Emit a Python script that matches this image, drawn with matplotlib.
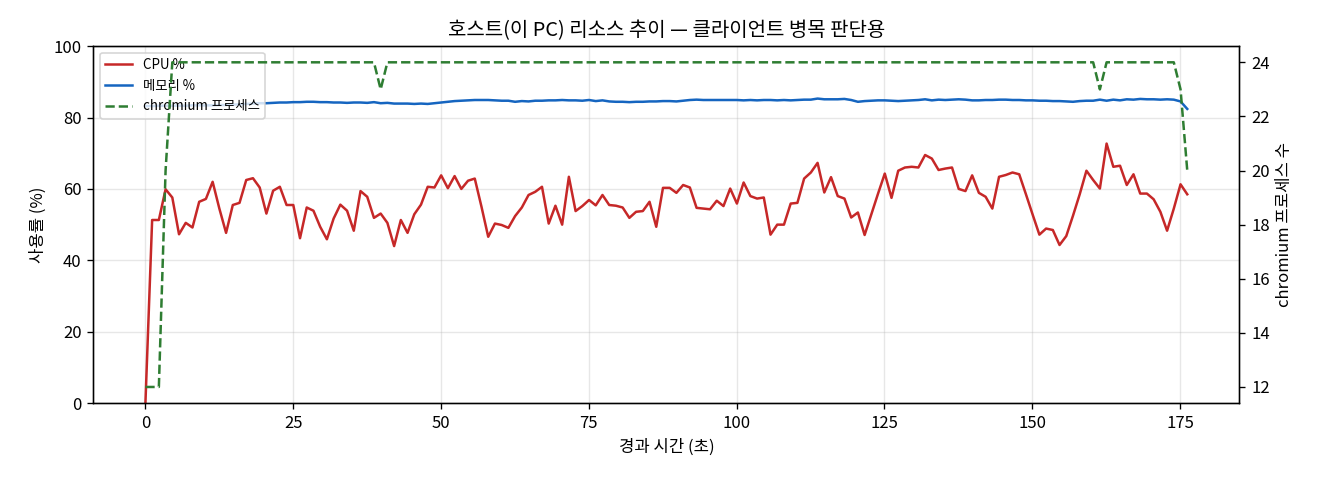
import numpy as np
import matplotlib
matplotlib.use("Agg")
import matplotlib.pyplot as plt

plt.rcParams['font.family'] = ['Noto Sans CJK KR', 'DejaVu Sans']
plt.rcParams['axes.unicode_minus'] = False

# 샘플 간격 (초) - 약 1.137초마다 측정
sample_sec = 1.137

cpu_pct = [
    0, 51.3, 51.3, 59.9, 57.6, 47.3, 50.5, 49.2, 56.4, 57.2,
    62.0, 54.5, 47.7, 55.5, 56.1, 62.5, 63.0, 60.4, 53.1, 59.5,
    60.6, 55.5, 55.5, 46.2, 54.8, 53.9, 49.4, 45.9, 51.7, 55.6,
    53.9, 48.3, 59.4, 57.8, 51.9, 53.1, 50.5, 44.0, 51.3, 47.7,
    52.9, 55.6, 60.6, 60.4, 63.8, 60.2, 63.6, 60.0, 62.3, 62.9,
    55.0, 46.6, 50.3, 49.9, 49.1, 52.4, 54.8, 58.3, 59.2, 60.6,
    50.3, 55.3, 50.0, 63.4, 53.8, 55.2, 56.9, 55.4, 58.3, 55.5,
    55.3, 54.8, 51.9, 53.6, 53.8, 56.4, 49.4, 60.3, 60.3, 58.9,
    61.1, 60.4, 54.7, 54.5, 54.3, 56.7, 55.2, 60.1, 55.9, 61.8,
    58.0, 57.3, 57.6, 47.2, 50.0, 50.0, 55.9, 56.1, 62.9, 64.6,
    67.3, 59.0, 63.3, 58.0, 57.3, 52.0, 53.4, 47.1, 52.9, 58.7,
    64.3, 57.5, 65.1, 66.0, 66.2, 66.0, 69.5, 68.5, 65.3, 65.7,
    66.0, 60.0, 59.4, 63.8, 58.9, 57.8, 54.5, 63.4, 63.9, 64.6,
    64.1, 58.5, 52.8, 47.2, 48.9, 48.5, 44.3, 46.8, 52.5, 58.5,
    65.1, 62.5, 60.1, 72.7, 66.2, 66.5, 61.1, 64.1, 58.7, 58.7,
    57.1, 53.6, 48.3, 54.5, 61.3, 58.5,
]

mem_pct = [
    83.2, 83.2, 83.3, 83.3, 83.3, 83.3, 83.3, 83.4, 83.4, 83.4,
    83.4, 83.5, 83.5, 83.6, 83.7, 83.8, 83.9, 84.0, 84.0, 84.1,
    84.2, 84.2, 84.3, 84.3, 84.4, 84.4, 84.3, 84.3, 84.2, 84.2,
    84.1, 84.2, 84.2, 84.1, 84.3, 84.0, 84.1, 83.9, 83.9, 83.9,
    83.8, 83.9, 83.8, 84.0, 84.2, 84.4, 84.6, 84.7, 84.8, 84.9,
    84.9, 84.9, 84.8, 84.7, 84.7, 84.4, 84.6, 84.5, 84.7, 84.7,
    84.8, 84.8, 84.9, 84.8, 84.8, 84.7, 84.9, 84.6, 84.8, 84.5,
    84.4, 84.4, 84.3, 84.4, 84.4, 84.5, 84.5, 84.6, 84.6, 84.5,
    84.7, 84.9, 85.0, 84.9, 84.9, 84.9, 84.9, 84.9, 84.9, 84.8,
    84.9, 84.8, 84.9, 84.9, 84.8, 84.9, 84.8, 84.9, 85.0, 85.0,
    85.3, 85.1, 85.1, 85.1, 85.2, 84.9, 84.4, 84.6, 84.7, 84.8,
    84.8, 84.7, 84.6, 84.7, 84.8, 84.9, 85.1, 84.8, 85.0, 84.9,
    85.0, 85.1, 85.0, 84.8, 84.8, 84.9, 84.9, 85.0, 85.0, 84.9,
    84.9, 84.8, 84.8, 84.7, 84.7, 84.6, 84.6, 84.5, 84.4, 84.6,
    84.7, 84.7, 85.0, 84.7, 85.0, 84.8, 85.1, 85.0, 85.2, 85.1,
    85.1, 85.0, 85.1, 85.0, 84.5, 82.4,
]

chromium_cnt = [12, 12, 12, 20] + [24] * 31 + [23] + [24] * 106 + [23] + [24] * 11 + [23, 20]

t = np.arange(len(cpu_pct)) * sample_sec

fig, ax = plt.subplots(figsize=(11, 4), dpi=120)
fig.subplots_adjust(left=0.0707, right=0.9389, top=0.904, bottom=0.16)

l1, = ax.plot(t, cpu_pct, color='#c62828', lw=1.5, label='CPU %')
l2, = ax.plot(t, mem_pct, color='#1565c0', lw=1.5, label='메모리 %')
ax.set_ylim(0, 100)
ax.set_xlabel('경과 시간 (초)')
ax.set_ylabel('사용률 (%)')
ax.grid(True, alpha=0.3)

ax2 = ax.twinx()
l3, = ax2.plot(t, chromium_cnt, color='#2e7d32', lw=1.5, ls='--', label='chromium 프로세스')
ax2.set_ylabel('chromium 프로세스 수')

ax.legend(handles=[l1, l2, l3], loc='upper left', fontsize=8)
ax.set_title('호스트(이 PC) 리소스 추이 — 클라이언트 병목 판단용')

fig.savefig('out.png', dpi=120)
